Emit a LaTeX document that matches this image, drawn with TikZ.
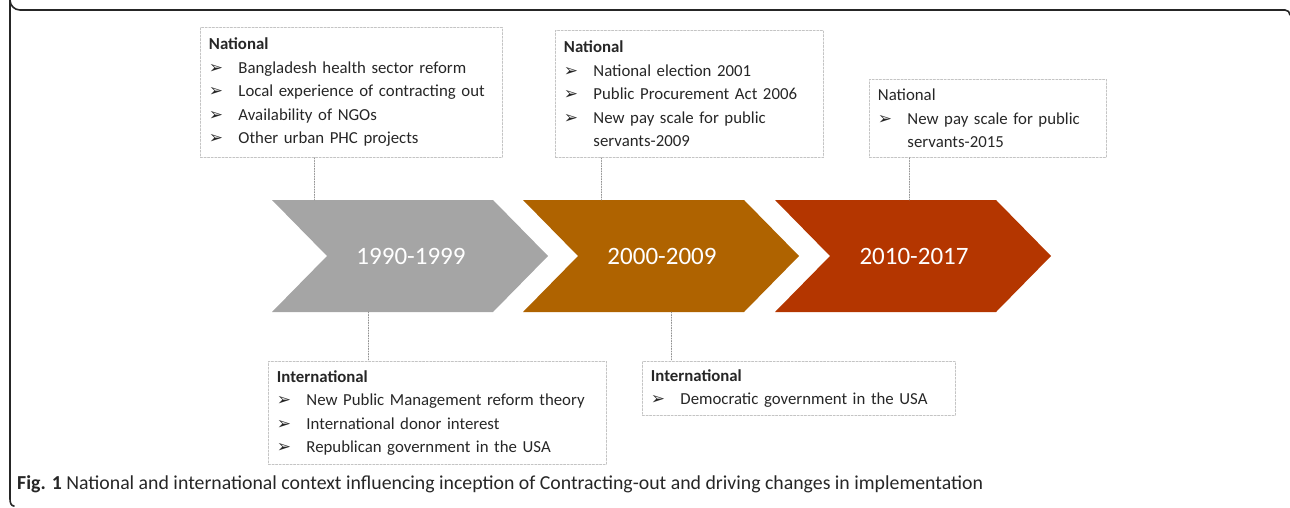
\documentclass[tikz,border=0pt]{standalone}
\usepackage{fontspec}
\setmainfont{Carlito}
\newfontfamily\symfont{DejaVu Sans}
\definecolor{txt}{HTML}{262626}
\definecolor{gry}{HTML}{A5A5A5}
\definecolor{ochre}{HTML}{AF6300}
\definecolor{rust}{HTML}{B43600}
\definecolor{rim}{HTML}{C4C4C4}
\newcommand\bul{\makebox[29.5pt][l]{\symfont\fontsize{17}{17}\selectfont ➢}}
\newcommand\itm[1]{\\\bul#1}
\newcommand\cont[1]{\\\hspace*{29.5pt}#1}

\begin{document}
\begin{tikzpicture}[x=1pt, y=-1pt, line cap=round,
  box/.style={draw=rim, line width=.9pt, dash pattern=on 2pt off 1.6pt, anchor=north west,
    align=left, inner xsep=8.5pt, font=\fontsize{16.8}{23.5}\selectfont, text=txt},
  link/.style={gray!85, line width=.9pt, dash pattern=on 1pt off 1.6pt},
  year/.style={white, font=\fontsize{25}{25}\selectfont}]
  \useasboundingbox (0,0) rectangle (1290,508);
  % frame
  \draw[black!85, line width=1.6pt] (1290,15) to[out=90,in=0] (1285,10) -- (20,10)
    arc[start angle=90, end angle=180, radius=10] -- (10,499) to[out=-90,in=180] (14,506);
  % chevrons
  \foreach \x/\c/\t [count=\i] in {272/gry/1990-1999, 523/ochre/2000-2009, 775/rust/2010-2017} {
    \fill[\c] (\x,200) -- ++(221,0) -- ++(55,56) -- ++(-55,56) -- ++(-221,0) -- ++(55,-56) -- cycle;
    \node[year] (y\i) at (\x+139,256) {\t};
  }
  % national boxes
  \node[box, text width=285pt, minimum height=130pt] (nat1) at (200,27)
    {\textbf{National}\itm{Bangladesh health sector reform}\itm{Local experience of contracting out}
     \itm{Availability of NGOs}\itm{Other urban PHC projects}};
  \node[box, text width=251pt, minimum height=127pt] (nat2) at (555,30)
    {\textbf{National}\itm{National election 2001}\itm{Public Procurement Act 2006}
     \itm{New pay scale for public}\cont{servants-2009}};
  \node[box, text width=220pt, minimum height=78pt] (nat3) at (869,79)
    {National\itm{New pay scale for public}\cont{servants-2015}};
  % international boxes
  \node[box, text width=321pt, minimum height=103pt] (int1) at (268,361)
    {\textbf{International}\itm{New Public Management reform theory}\itm{International donor interest}
     \itm{Republican government in the USA}};
  \node[box, text width=296pt, minimum height=54pt] (int2) at (642,361)
    {\textbf{International}\itm{Democratic government in the USA}};
  % links
  \coordinate (a1) at (314,200);
  \coordinate (a2) at (601,200);
  \coordinate (a3) at (909,200);
  \coordinate (b1) at (368,312);
  \coordinate (b2) at (671,312);
  \draw[link] (nat1.south -| a1) -- (a1);
  \draw[link] (nat2.south -| a2) -- (a2);
  \draw[link] (nat3.south -| a3) -- (a3);
  \draw[link] (b1) -- (b1 |- int1.north);
  \draw[link] (b2) -- (b2 |- int2.north);
  % caption
  \node[anchor=base west, inner sep=0pt, text=txt, font=\fontsize{19.8}{19.8}\selectfont] (cap) at (17,489)
    {\textbf{Fig. 1} National and international context influencing inception of Contracting-out and driving changes in implementation};
\end{tikzpicture}
\end{document}
